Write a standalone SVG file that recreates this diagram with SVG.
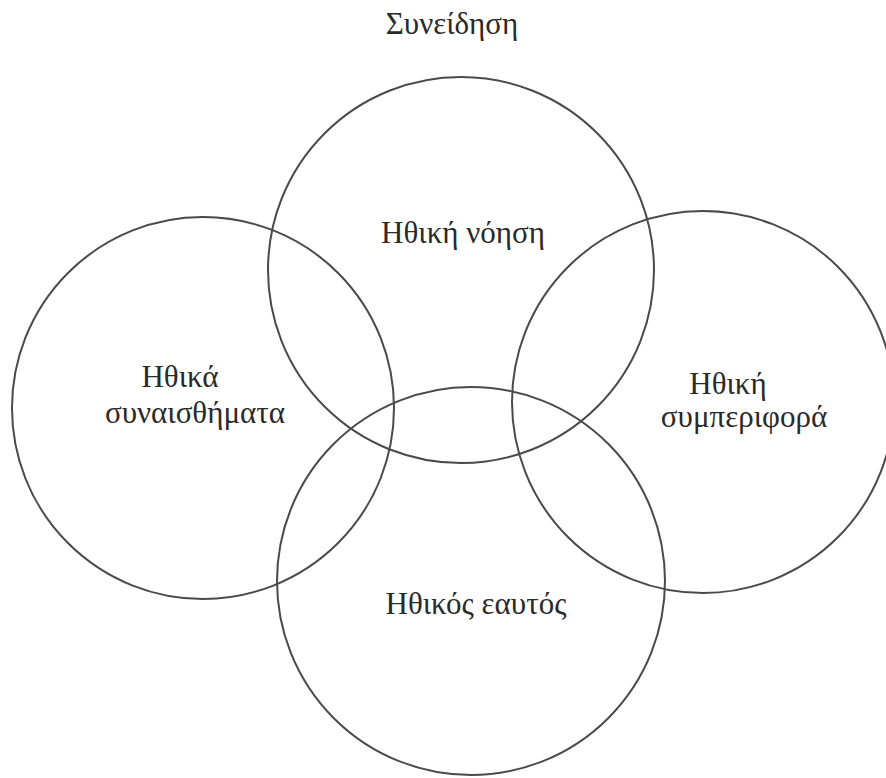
<svg xmlns="http://www.w3.org/2000/svg" width="886" height="778" viewBox="0 0 886 778">
<style>
.c{fill:none;stroke:#4a4a4a;stroke-width:2}
.t{font-family:"Liberation Serif","DejaVu Serif",serif;font-size:31px;fill:#2a2a2a;text-anchor:middle}
</style>
<rect width="886" height="778" fill="#fff"/>
<g id="connectors"></g>
<g id="title"><text class="t" x="452" y="34">Συνείδηση</text></g>
<g id="node-top"><circle class="c" cx="461" cy="270" r="193"/><text class="t" x="463" y="243">Ηθική νόηση</text></g>
<g id="node-left"><circle class="c" cx="203" cy="408" r="191"/><text class="t" x="180" y="387">Ηθικά</text><text class="t" x="195" y="423">συναισθήματα</text></g>
<g id="node-right"><circle class="c" cx="703" cy="402" r="191"/><text class="t" x="728" y="394">Ηθική</text><text class="t" x="744" y="427">συμπεριφορά</text></g>
<g id="node-bottom"><circle class="c" cx="471" cy="581" r="194"/><text class="t" x="476" y="614">Ηθικός εαυτός</text></g>
</svg>
